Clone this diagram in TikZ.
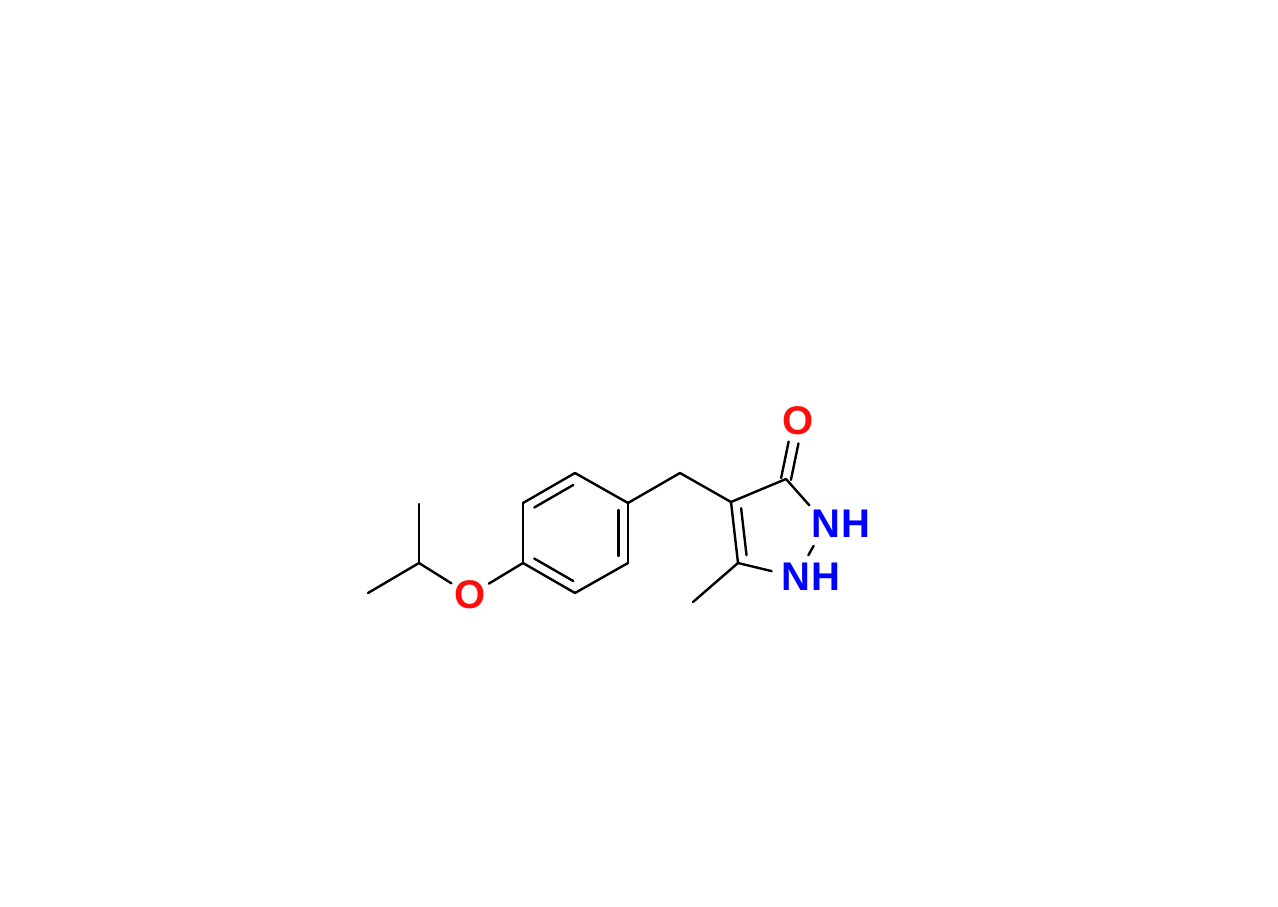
\documentclass[tikz,border=0pt]{standalone}
\usepackage{fontspec}
\setmainfont{Liberation Sans}
\usetikzlibrary{calc}
\definecolor{ored}{RGB}{255,13,13}
\definecolor{nblue}{RGB}{0,0,255}
\begin{document}
\begin{tikzpicture}[x=1pt,y=-1pt,
  bond/.style={line width=2.4pt,line cap=round,black},
  lbl/.style={font=\fontsize{40}{40}\selectfont\bfseries},
  oatom/.style={lbl,circle,inner sep=0.5pt,text=ored},
  natom/.style={lbl,circle,inner sep=3.5pt,text=nblue},
  hlbl/.style={lbl,inner sep=0pt,text=nblue}]
\useasboundingbox (0,0) rectangle (1278,907);
% isopropyl
\coordinate (ch) at (419,563);
\coordinate (me1) at (419,504);
\coordinate (me2) at (368,593);
\node[oatom] (o1) at (470,595) {O};
% benzene
\coordinate (b1) at (523,563);
\coordinate (b2) at (523,503);
\coordinate (b3) at (575,473);
\coordinate (b4) at (628,503);
\coordinate (b5) at (628,563);
\coordinate (b6) at (575,593);
\coordinate (bc) at (575,533);
% CH2
\coordinate (ch2) at (680,473);
% pyrazolone
\coordinate (p4) at (731,502);
\coordinate (p3) at (786,479);
\coordinate (p5) at (738,563);
\coordinate (me3) at (693,602);
\coordinate (pc) at (775,529);
\node[oatom] (o2) at (798,421) {O};
\node[natom] (n2) at (826,524) {N};
\node[hlbl] (h2) at ([xshift=29.5pt]n2.center) {H};
\node[natom] (n1) at (796,577) {N};
\node[hlbl] (h1) at ([xshift=29.5pt]n1.center) {H};
% bonds
\draw[bond] (me1) -- (ch);
\draw[bond] (me2) -- (ch);
\draw[bond] (ch) -- (o1);
\draw[bond] (o1) -- (b1);
\draw[bond] (b1) -- (b2);
\draw[bond] (b2) -- (b3);
\draw[bond] (b3) -- (b4);
\draw[bond] (b4) -- (b5);
\draw[bond] (b5) -- (b6);
\draw[bond] (b6) -- (b1);
\draw[bond,shorten <=2pt,shorten >=2pt] ($(bc)!0.817!(b2)$) -- ($(bc)!0.817!(b3)$);
\draw[bond,shorten <=1.5pt,shorten >=1.5pt] ($(bc)!0.817!(b4)$) -- ($(bc)!0.817!(b5)$);
\draw[bond,shorten <=2pt,shorten >=2pt] ($(bc)!0.817!(b6)$) -- ($(bc)!0.817!(b1)$);
\draw[bond] (b4) -- (ch2);
\draw[bond] (ch2) -- (p4);
\draw[bond] (p4) -- (p3);
\draw[bond] (p3) -- (n2);
\draw[bond] (n2) -- (n1);
\draw[bond] (n1) -- (p5);
\draw[bond] (p5) -- (p4);
\draw[bond] ($(pc)!0.77!(p4)$) -- ($(pc)!0.77!(p5)$);
\draw[bond] (p5) -- (me3);
\draw[bond,transform canvas={shift={(-4.9pt,0.93pt)}}] (p3) -- (o2);
\draw[bond,transform canvas={shift={(4.9pt,-0.93pt)}}] (p3) -- (o2);
\end{tikzpicture}
\end{document}
